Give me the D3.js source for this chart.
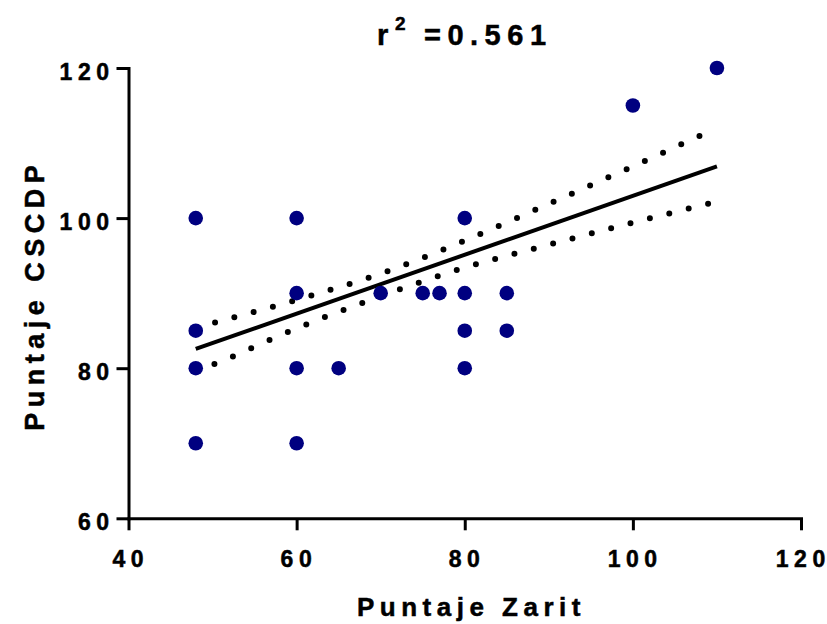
<!DOCTYPE html>
<html>
<head>
<meta charset="utf-8">
<script src="https://cdn.jsdelivr.net/npm/d3@7"></script>
<style>
  html, body { margin: 0; padding: 0; background: #fff; }
  svg { display: block; }
  text { font-family: "Liberation Sans", Arial, sans-serif; font-weight: bold; fill: #000; stroke: #000; stroke-width: 0.5px; }
</style>
</head>
<body>
<svg id="chart" width="827" height="624"></svg>
<script>
// ---- data ----
const xTicks = [40, 60, 80, 100, 120];
const yTicks = [60, 80, 100, 120];
const zaritX = [48, 48, 48, 48, 60, 60, 60, 60, 65, 70, 75, 77, 80, 80, 80, 80, 85, 85, 100, 110];
const cscdpY = [100, 85, 80, 70, 100, 90, 80, 70, 80, 90, 90, 90, 100, 90, 85, 80, 90, 85, 115, 120];
const fitX = [48, 110];
const fitY = [82.57, 106.88];
const bandX = [48, 50, 60, 70, 80, 90, 100, 110];
const bandUpper = [85.4, 86.0, 89.1, 92.6, 97.0, 101.9, 106.9, 112.0];
const bandLower = [79.6, 80.45, 85.3, 89.6, 93.4, 96.45, 99.4, 102.2];
const titleMain = "r";
const titleSup = "2";
const titleRest = "=0.561";
const xTitle = "Puntaje Zarit";
const yTitle = "Puntaje CSCDP";

// letter-spaced text without trailing space after the last glyph
function spaced(sel, str, ls) {
  sel.text(null);
  sel.append("tspan").style("letter-spacing", ls + "px").text(str.slice(0, -1));
  sel.append("tspan").style("letter-spacing", "0px").text(str.slice(-1));
}

// ---- layout ----
const svg = d3.select("#chart");
const x = d3.scaleLinear().domain([40, 120]).range([128.5, 801]);
const y = d3.scaleLinear().domain([60, 120]).range([518.3, 68]);
const AX_W = 3, TICK = 12;

const gx = svg.append("g").attr("transform", `translate(0,${y(60)})`)
  .call(d3.axisBottom(x).tickValues(xTicks).tickSize(TICK).tickSizeOuter(0).tickFormat(d3.format("d")));
const gy = svg.append("g").attr("transform", `translate(${x(40)},0)`)
  .call(d3.axisLeft(y).tickValues(yTicks).tickSize(TICK).tickSizeOuter(0).tickFormat(d3.format("d")));

[gx, gy].forEach(g => {
  g.select(".domain").attr("stroke", "#000").attr("stroke-width", AX_W).attr("stroke-linecap", "square");
  g.selectAll(".tick line").attr("stroke", "#000").attr("stroke-width", AX_W);
  g.selectAll(".tick text").attr("font-family", null).attr("font-size", 23).attr("fill", "#000")
    .each(function(d) { spaced(d3.select(this), String(d), 5.5); });
});
gx.selectAll(".tick text").attr("y", 48.7).attr("dy", 0).attr("x", -1);
gy.selectAll(".tick text").attr("x", -19.5).attr("dy", 0).attr("y", 11.5);

// confidence bands (dotted)
const bandLine = d3.line().x(d => x(d[0])).y(d => y(d[1])).curve(d3.curveMonotoneX);
[bandUpper, bandLower].forEach(arr => {
  svg.append("path")
    .datum(bandX.map((v, i) => [v, arr[i]]))
    .attr("d", bandLine)
    .attr("fill", "none").attr("stroke", "#000").attr("stroke-width", 6)
    .attr("stroke-linecap", "round").attr("stroke-dasharray", "0 20");
});

// regression line
svg.append("path")
  .datum(fitX.map((v, i) => [v, fitY[i]]))
  .attr("d", d3.line().x(d => x(d[0])).y(d => y(d[1])))
  .attr("fill", "none").attr("stroke", "#000").attr("stroke-width", 4);

// points
svg.append("g").selectAll("circle")
  .data(zaritX.map((v, i) => [v, cscdpY[i]]))
  .join("circle")
  .attr("cx", d => x(d[0])).attr("cy", d => y(d[1])).attr("r", 7.3)
  .attr("fill", "#000080");

// title
svg.append("text").attr("x", 377).attr("y", 45).attr("font-size", 29).text(titleMain);
svg.append("text").attr("x", 395).attr("y", 30).attr("font-size", 19).text(titleSup);
const tr = svg.append("text").attr("x", 424).attr("y", 45).attr("font-size", 29);
spaced(tr, titleRest, 6.5);

// axis titles
const xt = svg.append("text").attr("x", 468.7).attr("y", 616).attr("text-anchor", "middle").attr("font-size", 26);
spaced(xt, xTitle, 5.5);
const yt = svg.append("text").attr("transform", `translate(44,298) rotate(-90)`)
  .attr("text-anchor", "middle").attr("font-size", 27);
spaced(yt, yTitle, 5.5);
</script>
</body>
</html>
